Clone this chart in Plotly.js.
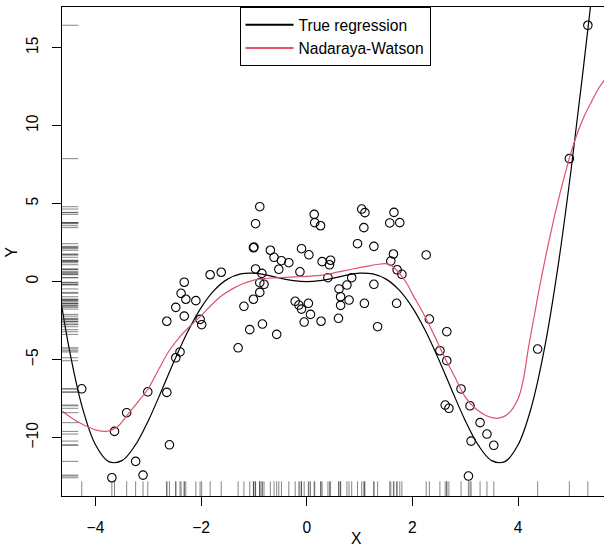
<!DOCTYPE html>
<html>
<head>
<meta charset="utf-8">
<script src="https://cdn.plot.ly/plotly-3.0.1.min.js"></script>
<style>html,body{margin:0;padding:0;background:#fff;overflow:hidden}</style>
</head>
<body>
<div id="chart" style="width:604px;height:546px"></div>
<script>
// Observed sample (X, Y)
const ptX = [-4.26,-3.69,-3.64,-3.41,-3.24,-3.10,-3.01,-2.65,-2.60,-2.65,
  -2.48,-2.40,-2.48,-2.38,-2.32,-2.29,-2.32,-2.10,-2.02,-1.99,
  -1.83,-1.62,-1.30,-1.19,-1.08,-1.01,-1.01,-1.00,-0.97,-0.89,
  -0.97,-0.85,-0.89,-0.81,-0.89,-0.84,-0.69,-0.62,-0.53,-0.57,
  -0.48,-0.34,-0.13,-0.10,0.04,-0.22,-0.15,-0.10,0.03,0.07,
  -0.05,0.14,0.15,0.26,0.27,0.29,0.45,0.43,0.40,0.61,
  0.64,0.64,0.60,0.76,0.80,0.85,0.96,1.04,1.10,1.08,
  1.09,1.27,1.27,1.34,1.57,1.65,1.76,1.64,1.59,1.71,
  1.80,1.70,2.26,2.32,2.52,2.65,2.65,2.92,2.62,2.69,
  3.09,3.06,3.11,3.28,3.41,3.54,4.37,4.97,5.32];
const ptY = [-6.87,-12.57,-9.60,-8.40,-11.52,-12.40,-7.06,-7.10,-10.46,-2.54,
  -4.88,-4.51,-1.65,-0.75,-0.04,-1.13,-2.21,-1.22,-2.42,-2.76,
  0.44,0.60,-4.24,-1.58,-3.08,-1.13,2.17,2.21,3.71,4.80,
  0.81,0.53,-0.07,-0.17,-0.69,-2.72,2.01,1.56,0.79,-3.38,
  1.34,1.21,0.63,2.11,1.72,-1.26,-1.50,-1.76,-1.39,-2.10,
  -2.59,4.31,3.78,3.58,-2.54,1.28,1.37,1.08,0.25,-0.47,
  -0.97,-1.52,-2.35,-0.22,-1.18,0.25,2.43,4.65,4.42,3.46,
  -1.39,2.26,-0.17,-2.89,3.76,4.44,3.78,1.77,1.32,0.76,
  0.47,-1.39,1.71,-2.40,-4.43,-3.21,-5.07,-6.88,-7.91,-8.12,
  -7.96,-12.46,-10.22,-9.04,-9.77,-10.49,-4.32,7.88,16.43];

// True regression curve
const trueX = [-4.75,-4.5,-4.25,-4,-3.75,-3.5,-3.25,-3,-2.75,-2.5,-2.25,-2,-1.75,-1.5,-1.25,-1,-0.75,-0.5,-0.25,0,
  0.25,0.5,0.75,1,1.25,1.5,1.75,2,2.25,2.5,2.75,3,3.25,3.5,3.75,4,4.25,4.5,4.75,5,5.25,5.5,5.75];
const trueY = [0.848,-4.269,-8.061,-10.458,-11.539,-11.472,-10.501,-8.910,-6.990,-5.007,-3.180,-1.665,-0.546,0.159,0.493,0.540,0.412,0.219,0.061,0,
  0.061,0.219,0.412,0.540,0.493,0.159,-0.546,-1.665,-3.180,-5.007,-6.990,-8.910,-10.501,-11.472,-11.539,-10.458,-8.061,-4.269,0.848,7.092,14.114,21.437,28.473];

// Nadaraya-Watson estimate
const nwX = [-4.634,-4.4,-4.2,-4.0,-3.8,-3.6,-3.4,-3.2,-3.0,-2.8,-2.6,-2.4,-2.2,-2.0,-1.8,-1.6,-1.4,-1.2,-1.0,-0.8,
  -0.6,-0.4,-0.2,0.0,0.2,0.4,0.6,0.8,1.0,1.2,1.4,1.5,1.6,1.7,1.8,1.9,2.0,2.2,2.4,2.6,
  2.8,3.0,3.2,3.4,3.6,3.8,4.0,4.1,4.2,4.3,4.4,4.5,4.6,4.7,4.8,4.9,5.0,5.1,5.2,5.3,5.4,5.5,5.63];
const nwY = [-8.29,-8.85,-9.22,-9.50,-9.60,-9.35,-8.55,-7.72,-6.85,-5.60,-4.40,-3.52,-2.82,-2.18,-1.48,-0.88,-0.45,-0.12,0.10,0.20,
  0.24,0.27,0.30,0.33,0.38,0.48,0.62,0.76,0.90,1.03,1.13,1.15,1.03,0.73,0.33,-0.15,-0.80,-2.00,-3.35,-4.80,
  -6.10,-7.40,-8.15,-8.60,-8.76,-8.50,-7.50,-6.25,-4.15,-2.30,-0.45,1.25,2.85,4.35,5.75,7.05,8.25,9.30,10.20,10.95,11.60,12.25,12.92];

const xTicks = [-4,-2,0,2,4];
const yTicks = [-10,-5,0,5,10,15];
const legendNames = ["True regression","Nadaraya-Watson"];
const lineColors = ["#000000","#DF536B"];

// rug segments built from the sample
const rugBX = [], rugBY = [], rugLX = [], rugLY = [];
ptX.forEach(v => { rugBX.push(v, v, null); rugBY.push(0, 0.03, null); });
ptY.forEach(v => { rugLY.push(v, v, null); rugLX.push(0, 0.03, null); });

const FONT = 'Liberation Sans, Arial, Helvetica, sans-serif';

const traces = [
  {x: ptX, y: ptY, type:'scatter', mode:'markers', showlegend:false,
   marker:{symbol:'circle-open', size:8.5, color:'#000', line:{width:1.1, color:'#000'}}},
  {x: rugBX, y: rugBY, xaxis:'x', yaxis:'y2', type:'scatter', mode:'lines', showlegend:false,
   line:{color:'#333', width:0.6}},
  {x: rugLX, y: rugLY, xaxis:'x2', yaxis:'y', type:'scatter', mode:'lines', showlegend:false,
   line:{color:'#333', width:0.6}},
  {x: trueX, y: trueY, type:'scatter', mode:'lines', showlegend:false,
   line:{color:lineColors[0], width:1.2, shape:'spline', smoothing:1}},
  {x: nwX, y: nwY, type:'scatter', mode:'lines', showlegend:false,
   line:{color:lineColors[1], width:1.2, shape:'spline', smoothing:1}},
  {x:[null], y:[null], type:'scatter', mode:'lines', name:legendNames[0], line:{color:lineColors[0], width:2}},
  {x:[null], y:[null], type:'scatter', mode:'lines', name:legendNames[1], line:{color:lineColors[1], width:2}}
];

const axisCommon = {showgrid:false, zeroline:false, showline:true, linecolor:'#000', linewidth:1,
  ticks:'outside', ticklen:9, tickwidth:1, tickcolor:'#000', tickfont:{family:FONT, size:15.6, color:'#000'}};

const layout = {
  width:604, height:546,
  margin:{l:62, r:0, t:7, b:50, pad:0},
  paper_bgcolor:'#fff', plot_bgcolor:'#fff',
  font:{family:FONT, size:15.6, color:'#000'},
  showlegend:true,
  xaxis: Object.assign({}, axisCommon, {range:[-4.634,5.626], tickmode:'array', tickvals:xTicks, mirror:true, ticklabelstandoff:8}),
  yaxis: Object.assign({}, axisCommon, {range:[-13.74,17.60], tickmode:'array', tickvals:yTicks, tickangle:-90, ticklabelstandoff:8}),
  xaxis2:{overlaying:'x', range:[0,1], visible:false, fixedrange:true},
  yaxis2:{overlaying:'y', range:[0,1], visible:false, fixedrange:true},
  legend:{x:0.5037, xanchor:'center', y:1, yanchor:'top', bordercolor:'#000', borderwidth:1,
    bgcolor:'#fff', font:{family:FONT, size:15.6, color:'#000'}, tracegroupgap:0, itemwidth:48},
  annotations:[
    {text:'X', xref:'paper', yref:'paper', x:0.5437, y:-0.086, xanchor:'center', yanchor:'middle', showarrow:false,
     font:{family:FONT, size:15.6, color:'#000'}},
    {text:'Y', xref:'paper', yref:'paper', x:-0.0923, y:0.5, xanchor:'center', yanchor:'middle', textangle:-90, showarrow:false,
     font:{family:FONT, size:15.6, color:'#000'}}
  ]
};

Plotly.newPlot('chart', traces, layout, {displayModeBar:false, staticPlot:true});
</script>
</body>
</html>
